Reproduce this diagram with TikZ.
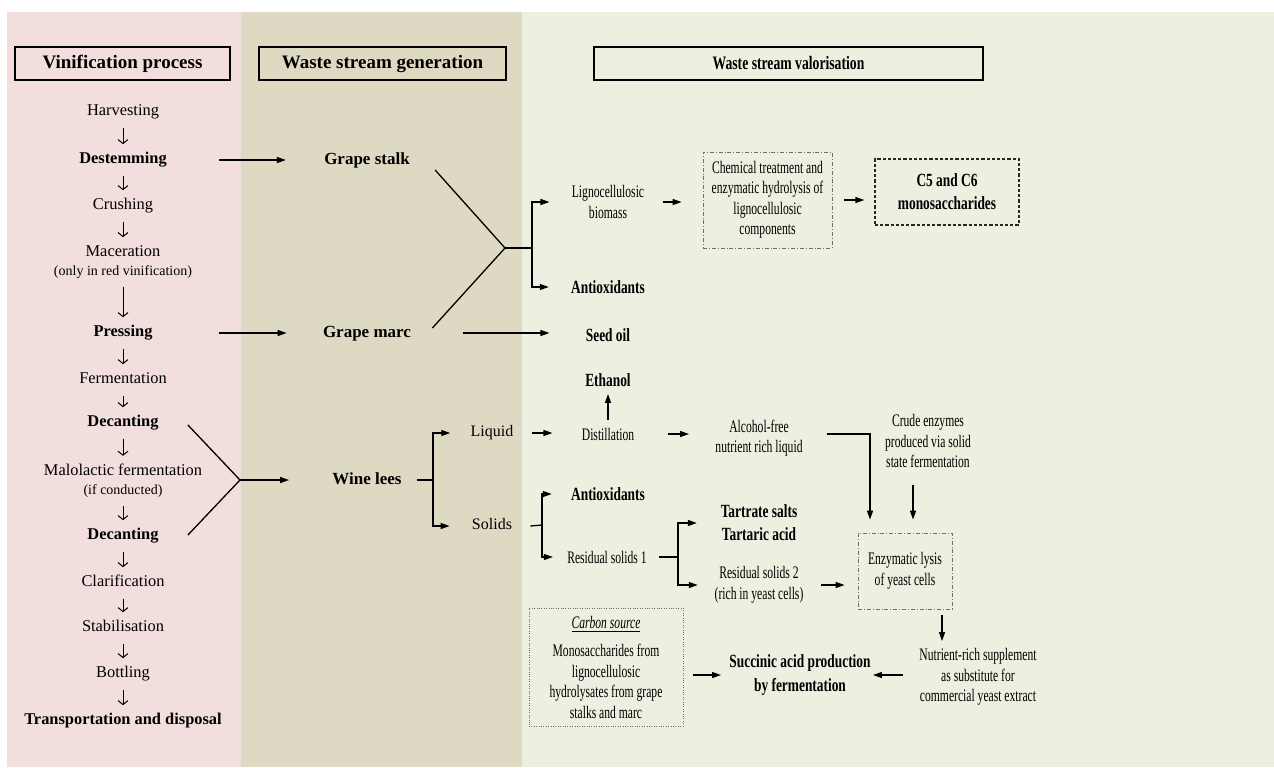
\documentclass[tikz,border=0pt]{standalone}
\usepackage{fontspec}
\setmainfont{Liberation Serif}
\newfontfamily\wvnarrow[FakeStretch=0.66]{Liberation Serif}
\newfontfamily\wvnarrowbf[FakeStretch=0.72]{Liberation Serif}
\usepackage{tikz}
\usetikzlibrary{arrows.meta,calc}
\definecolor{wvpink} {HTML}{F2DEDD}
\definecolor{wvtan}  {HTML}{DDD9C3}
\definecolor{wvsage} {HTML}{ECF0E0}
\definecolor{wvgray} {HTML}{6E6E6E}
\tikzset{
  wvstep/.style={font=\fontsize{8.2}{9.5}\selectfont, inner sep=1pt,
                 text height=5.6pt, text depth=1.8pt},
  wvkey/.style={wvstep, font=\fontsize{8.2}{9.5}\selectfont\bfseries},
  wvnote/.style={font=\fontsize{8.2}{9.5}\selectfont, align=center, inner sep=1pt},
  wvhead/.style={draw, line width=0.65pt, minimum height=16.5pt, inner sep=1pt,
                 font=\fontsize{9.5}{11}\selectfont\bfseries},
  wvwaste/.style={font=\fontsize{8.5}{10}\selectfont\bfseries, inner sep=1pt,
                  text height=6pt, text depth=1.8pt},
  wvphase/.style={font=\fontsize{8}{9.5}\selectfont, inner sep=1pt,
                  text height=5.6pt, text depth=1.8pt},
  wvitem/.style={font=\wvnarrow\fontsize{8.8}{10.25}\selectfont, align=center, inner sep=1pt},
  wvprod/.style={font=\wvnarrowbf\fontsize{9.3}{11.5}\selectfont\bfseries, align=center,
                 inner sep=1pt},
  wvproc/.style={wvitem, draw=wvgray, line width=0.4pt,
                 dash pattern=on 2pt off 1pt on 0.4pt off 1pt},
  wvgoal/.style={wvprod, draw=black!85, line width=0.65pt, dash pattern=on 1.6pt off 1pt},
  wvsource/.style={wvitem, draw=wvgray, line width=0.4pt, dash pattern=on 0.4pt off 0.8pt},
  wvline/.style={draw=black, line width=0.65pt},
  wvarrow/.style={wvline, -{Triangle[length=4.5pt,width=3pt]}},
  wvdown/.style={draw=black, line width=0.5pt, -{Straight Barb[length=2pt,width=5pt]},
                 shorten <=3pt, shorten >=3pt},
}

\begin{document}
\begin{tikzpicture}[x=0.5pt,y=-0.5pt]
  \useasboundingbox (0,0) rectangle (1274,767);
  \fill[wvpink] (7,12)   rectangle (241,767);
  \fill[wvtan]  (241,12) rectangle (522,767);
  \fill[wvsage] (522,12) rectangle (1274,767);

  % column headers
  \node[wvhead, minimum width=107.5pt] (hvin)   at (122.5,63.5) {Vinification process};
  \node[wvhead, minimum width=123.5pt] (hwaste) at (382.5,63.5) {Waste stream generation};
  \node[wvhead, minimum width=194.5pt, font=\wvnarrowbf\fontsize{9.5}{11}\selectfont\bfseries]
    (hvalor) at (788.5,63.5) {Waste stream valorisation};

  % vinification steps
  \node[wvstep] (harvest) at (123,112) {Harvesting};
  \node[wvkey]  (destem)  at (123,160) {Destemming};
  \node[wvstep] (crush)   at (123,206) {Crushing};
  \node[wvnote] (macer)   at (123,262) {Maceration\\{\fontsize{7}{8}\selectfont(only in red vinification)}};
  \node[wvkey]  (press)   at (123,333) {Pressing};
  \node[wvstep] (ferment) at (123,380) {Fermentation};
  \node[wvkey]  (decant1) at (123,423) {Decanting};
  \node[wvnote] (malo)    at (123,481) {Malolactic fermentation\\{\fontsize{7}{8}\selectfont(if conducted)}};
  \node[wvkey]  (decant2) at (123,536) {Decanting};
  \node[wvstep] (clarif)  at (123,583) {Clarification};
  \node[wvstep] (stabil)  at (123,628) {Stabilisation};
  \node[wvstep] (bottle)  at (123,674) {Bottling};
  \node[wvkey]  (transp)  at (123,721) {Transportation and disposal};

  \draw[wvdown] (harvest) -- (destem);
  \draw[wvdown] (destem) -- (crush);
  \draw[wvdown] (crush) -- (macer);
  \draw[wvdown] (macer) -- (press);
  \draw[wvdown] (press) -- (ferment);
  \draw[wvdown] (ferment) -- (decant1);
  \draw[wvdown] (decant1) -- (malo);
  \draw[wvdown] (malo) -- (decant2);
  \draw[wvdown] (decant2) -- (clarif);
  \draw[wvdown] (clarif) -- (stabil);
  \draw[wvdown] (stabil) -- (bottle);
  \draw[wvdown] (bottle) -- (transp);

  % waste streams
  \node[wvwaste] (stalk)  at (367,160) {Grape stalk};
  \node[wvwaste] (marc)   at (367,333) {Grape marc};
  \node[wvwaste] (lees)   at (367,480) {Wine lees};
  \node[wvphase] (liquid) at (492,433) {Liquid};
  \node[wvphase] (solids) at (492,526) {Solids};

  \coordinate (leesjoin) at (240,480);
  \coordinate (leesfork) at (433,480);
  \coordinate (lcjoin)   at (505,248);
  \coordinate (lcfork)   at (532,248);
  \coordinate (solfork)  at (542,525);
  \coordinate (resfork)  at (678,557);

  % valorisation routes
  \node[wvitem] (ligno)   at (608,202) {Lignocellulosic\\biomass};
  \node[wvprod] (antiox1) at (608,287) {Antioxidants};
  \node[wvproc, minimum width=64.5pt, minimum height=48pt] (chem) at (767.5,200)
    {Chemical treatment and\\enzymatic hydrolysis of\\lignocellulosic\\components};
  \node[wvgoal, minimum width=72pt, minimum height=33pt] (mono) at (947,192)
    {C5 and C6\\monosaccharides};
  \node[wvprod] (seedoil) at (608,335) {Seed oil};
  \node[wvprod] (ethanol) at (608,380) {Ethanol};
  \node[wvitem] (distill) at (608,434) {Distillation};
  \node[wvitem] (alcfree) at (759,438) {Alcohol-free\\nutrient rich liquid};
  \node[wvitem] (crude)   at (928,441) {Crude enzymes\\produced via solid\\state fermentation};
  \node[wvprod] (antiox2) at (608,494) {Antioxidants};
  \node[wvitem] (resid1)  at (607,557) {Residual solids 1};
  \node[wvprod] (tartrate) at (759,523) {Tartrate salts\\Tartaric acid};
  \node[wvitem] (resid2)  at (759,585) {Residual solids 2\\(rich in yeast cells)};
  \node[wvproc, minimum width=47pt, minimum height=38pt] (lysis) at (905,571)
    {Enzymatic lysis\\of yeast cells};
  \node[wvitem] (nutrient) at (978,677)
    {Nutrient-rich supplement\\as substitute for\\commercial yeast extract};
  \node[wvprod, font=\wvnarrowbf\fontsize{9.3}{12}\selectfont\bfseries] (succinic) at (800,675)
    {Succinic acid production\\by fermentation};
  \node[wvsource, minimum width=77pt, minimum height=59pt] (carbon) at (606,667)
    {\underline{\textit{Carbon source}}\\[4pt]Monosaccharides from\\lignocellulosic\\hydrolysates from grape\\stalks and marc};
  \coordinate (lysisout) at ($(lysis.south)+(37,0)$);

  % vinification -> waste streams
  \draw[wvarrow, shorten <=25pt, shorten >=18pt] (destem) -- (stalk);
  \draw[wvarrow, shorten <=32pt, shorten >=17pt] (press) -- (marc);
  \draw[wvline] ($(decant1.east)+(27,2)$) -- (leesjoin) -- ($(decant2.east)+(27,-1)$);
  \draw[wvarrow, shorten >=20.5pt] (leesjoin) -- (lees);

  % stalk and marc
  \draw[wvline] ($(stalk.east)+(23,10)$) -- (lcjoin) -- ($(marc.east)+(19,-5)$);
  \draw[wvline] (lcjoin) -- (lcfork);
  \draw[wvarrow, shorten >=10pt] (lcfork) |- (ligno);
  \draw[wvarrow, shorten >=10pt] (lcfork) |- (antiox1);
  \draw[wvarrow, shorten <=25pt, shorten >=17pt] (marc) -- (marc -| seedoil.west);
  \draw[wvarrow, shorten <=8pt, shorten >=10.5pt] (ligno) -- (ligno -| chem.west);
  \draw[wvarrow, shorten <=6pt, shorten >=5pt] (chem) -- (chem -| mono.west);

  % lees
  \draw[wvline] ($(lees.east)+(13,0)$) -- (leesfork);
  \draw[wvarrow, shorten >=9pt] (leesfork) |- (liquid);
  \draw[wvarrow, shorten >=10pt] (leesfork) |- (solids);
  \draw[wvarrow, shorten <=8pt, shorten >=13.5pt] (liquid) -- (liquid -| distill.west);
  \draw[wvarrow, shorten <=2.75pt, shorten >=2.5pt] (distill) -- (ethanol);
  \draw[wvarrow, shorten <=15.5pt, shorten >=12pt] (distill) -- (distill -| alcfree.west);
  \draw[wvarrow, shorten >=6.5pt] ($(alcfree.east |- distill)+(22,0)$) -| ($(lysis.north)+(-35,0)$);
  \draw[wvarrow, shorten <=7.5pt, shorten >=6.5pt] ($(crude.south)+(-15,0)$) -- ($(lysis.north)+(8,0)$);
  \draw[wvline] ($(solids.east)+(16,0)$) -- (solfork);
  \draw[wvarrow, shorten >=8.5pt] (solfork) |- (antiox2);
  \draw[wvarrow, shorten >=6pt] (solfork) |- (resid1);
  \draw[wvline] ($(resid1.east)+(10,0)$) -- (resfork);
  \draw[wvarrow, shorten >=10.75pt] (resfork) |- (tartrate);
  \draw[wvarrow, shorten >=7.25pt] (resfork) |- (resid2);
  \draw[wvarrow, shorten <=7.75pt, shorten >=6.5pt] (resid2) -- (resid2 -| lysis.west);
  \draw[wvarrow, shorten <=3pt, shorten >=2.5pt] (lysisout) -- (lysisout |- nutrient.north);
  \draw[wvarrow, shorten <=7pt] (nutrient.west |- succinic) -- (succinic);
  \draw[wvarrow, shorten <=5pt, shorten >=3pt] (carbon.east |- succinic) -- (succinic);
\end{tikzpicture}
\end{document}
